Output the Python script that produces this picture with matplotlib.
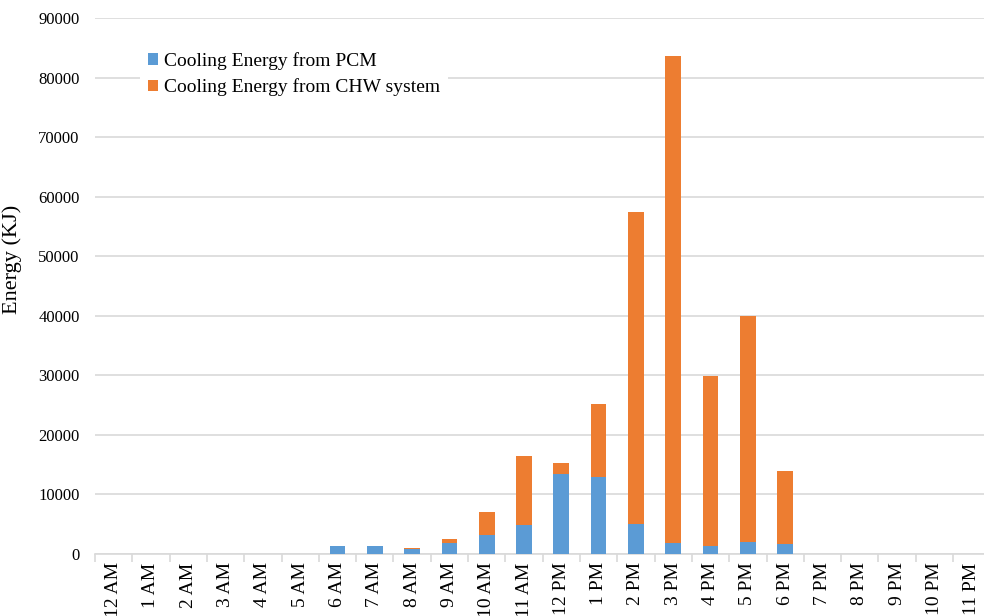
import numpy as np
import matplotlib
matplotlib.use("Agg")
import matplotlib.pyplot as plt
from matplotlib.ticker import MultipleLocator, FixedLocator

hours = ['12 AM', '1 AM', '2 AM', '3 AM', '4 AM', '5 AM', '6 AM', '7 AM', '8 AM',
         '9 AM', '10 AM', '11 AM', '12 PM', '1 PM', '2 PM', '3 PM', '4 PM', '5 PM',
         '6 PM', '7 PM', '8 PM', '9 PM', '10 PM', '11 PM']
# energy from PCM (kJ)
pcm = [0, 0, 0, 0, 0, 0, 1290, 1400, 840, 1900, 3200, 4800, 13500, 12900,
       5000, 1900, 1400, 2000, 1700, 0, 0, 0, 0, 0]
# total per hour (PCM + CHW)
total = [0, 0, 0, 0, 0, 0, 1290, 1400, 1060, 2500, 7100, 16500, 15300, 25200,
         57500, 83600, 29900, 40000, 13900, 0, 0, 0, 0, 0]
chw = [t - p for t, p in zip(total, pcm)]

plt.rcParams['font.family'] = ['Liberation Serif', 'DejaVu Serif']

fig = plt.figure(figsize=(9.84, 6.16), dpi=100)
ax = fig.add_axes([95/984, 62/616, 889/984, 536/616])

x = np.arange(len(hours))
w = 0.42
ax.bar(x, pcm, w, color='#5B9BD5', label='Cooling Energy from PCM', zorder=3)
ax.bar(x, chw, w, bottom=pcm, color='#ED7D31', label='Cooling Energy from CHW system', zorder=3)

ax.set_ylim(0, 90000)
ax.set_xlim(-0.5, 23.33)
ax.yaxis.set_major_locator(MultipleLocator(10000))
ax.grid(axis='y', color='#D9D9D9', linewidth=1.2, zorder=0)
for s in ['top', 'right', 'left']:
    ax.spines[s].set_visible(False)
ax.spines['bottom'].set_color('#D9D9D9')
ax.spines['bottom'].set_linewidth(1.2)

ax.set_xticks(x)
ax.set_xticklabels(hours, rotation=90, fontsize=14)
ax.xaxis.set_minor_locator(FixedLocator(np.arange(-0.5, 24, 1)))
ax.tick_params(axis='x', which='major', length=0, pad=6)
ax.tick_params(axis='x', which='minor', length=6, color='#D9D9D9', width=1.2)
ax.tick_params(axis='y', length=0, pad=11, labelsize=12)

ax.set_ylabel('Energy (KJ)', fontsize=16)
ax.yaxis.set_label_coords(-73/889, 0.55)

leg = ax.legend(loc='upper left', bbox_to_anchor=(140/984, 1 - 44/616), bbox_transform=fig.transFigure,
                fontsize=14, frameon=True, framealpha=1, edgecolor='none',
                handlelength=0.55, handleheight=0.55, handletextpad=0.3, labelspacing=0.45,
                borderpad=0.4, borderaxespad=0)

fig.savefig('out.png', dpi=100)
